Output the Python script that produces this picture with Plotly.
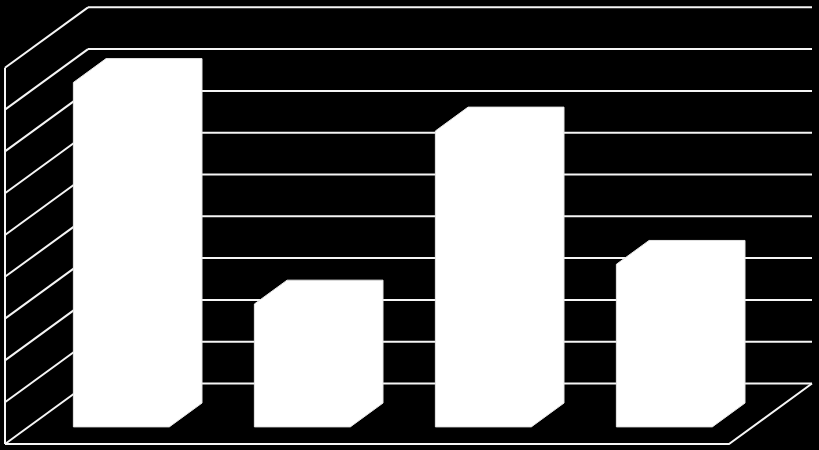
"""
Oblique 3D-style column chart: white columns on black, with back wall,
left wall and floor drawn as white gridlines.
"""
import plotly.graph_objects as go


# Data
# ====
categories = ["A", "B", "C", "D"]
values = [8.24, 2.94, 7.08, 3.89]
grid_ticks = [0, 1, 2, 3, 4, 5, 6, 7, 8, 9]

# Projection / style options
# ==========================
DEPTH_DX = 0.4586   # x shift (category units) for full depth
DEPTH_DY = 1.447    # y shift (value units) for full depth
BAR_WIDTH = 0.53
BAR_CENTER = 0.513  # column centre within its category slot
BAR_D0, BAR_D1 = 0.283, 0.677   # front / back of the columns, as depth fraction
LINE_COLOR = "#f5f5f5"


def proj(x, y, d):
    """Oblique projection: depth d in [0, 1] shifts up and to the right."""
    return x + d * DEPTH_DX, y + d * DEPTH_DY


def main():
    fig = go.Figure()
    n_cat = len(categories)
    top = grid_ticks[-1]

    # Walls and floor
    # ===============
    xs, ys = [], []
    for v in grid_ticks:
        # --- Back wall gridline
        for x0, y0 in (proj(0, v, 1), proj(n_cat, v, 1)):
            xs.append(x0)
            ys.append(y0)
        xs.append(None)
        ys.append(None)
        # --- Left wall diagonal
        for x0, y0 in (proj(0, v, 0), proj(0, v, 1)):
            xs.append(x0)
            ys.append(y0)
        xs.append(None)
        ys.append(None)

    # --- Front left edge of the side wall
    for x0, y0 in (proj(0, 0, 0), proj(0, top, 0)):
        xs.append(x0)
        ys.append(y0)
    xs.append(None)
    ys.append(None)

    # --- Floor front edge and right edge
    for x0, y0 in (proj(0, 0, 0), proj(n_cat, 0, 0), proj(n_cat, 0, 1)):
        xs.append(x0)
        ys.append(y0)

    fig.add_scatter(
        x=xs, y=ys, mode="lines",
        line=dict(color=LINE_COLOR, width=2),
        hoverinfo="skip", showlegend=False,
    )

    # Columns
    # =======
    for i, (cat, val) in enumerate(zip(categories, values)):
        left = i + BAR_CENTER - BAR_WIDTH / 2
        right = i + BAR_CENTER + BAR_WIDTH / 2
        corners = [
            proj(left, 0, BAR_D0),
            proj(left, val, BAR_D0),
            proj(left, val, BAR_D1),
            proj(right, val, BAR_D1),
            proj(right, 0, BAR_D1),
            proj(right, 0, BAR_D0),
            proj(left, 0, BAR_D0),
        ]
        fig.add_scatter(
            x=[c[0] for c in corners],
            y=[c[1] for c in corners],
            mode="lines", fill="toself",
            fillcolor="white",
            line=dict(color="#e6e6e6", width=1),
            name=cat, hoverinfo="name", showlegend=False,
        )

    # Layout
    # ======
    px_per_cat = 181.0
    px_per_val = 41.8
    fig.update_xaxes(
        range=[-5 / px_per_cat, 814 / px_per_cat],
        visible=False, fixedrange=True,
    )
    fig.update_yaxes(
        range=[-6 / px_per_val, 444 / px_per_val],
        visible=False, fixedrange=True,
    )
    fig.update_layout(
        width=819, height=450,
        margin=dict(l=0, r=0, t=0, b=0),
        paper_bgcolor="black",
        plot_bgcolor="black",
        showlegend=False,
    )

    # Remove the default page margin so the figure fills the window
    fig.write_html(
        "out.html",
        config=dict(displayModeBar=False),
        post_script="document.body.style.margin='0';document.body.style.background='black';",
    )


if __name__ == "__main__":
    main()
